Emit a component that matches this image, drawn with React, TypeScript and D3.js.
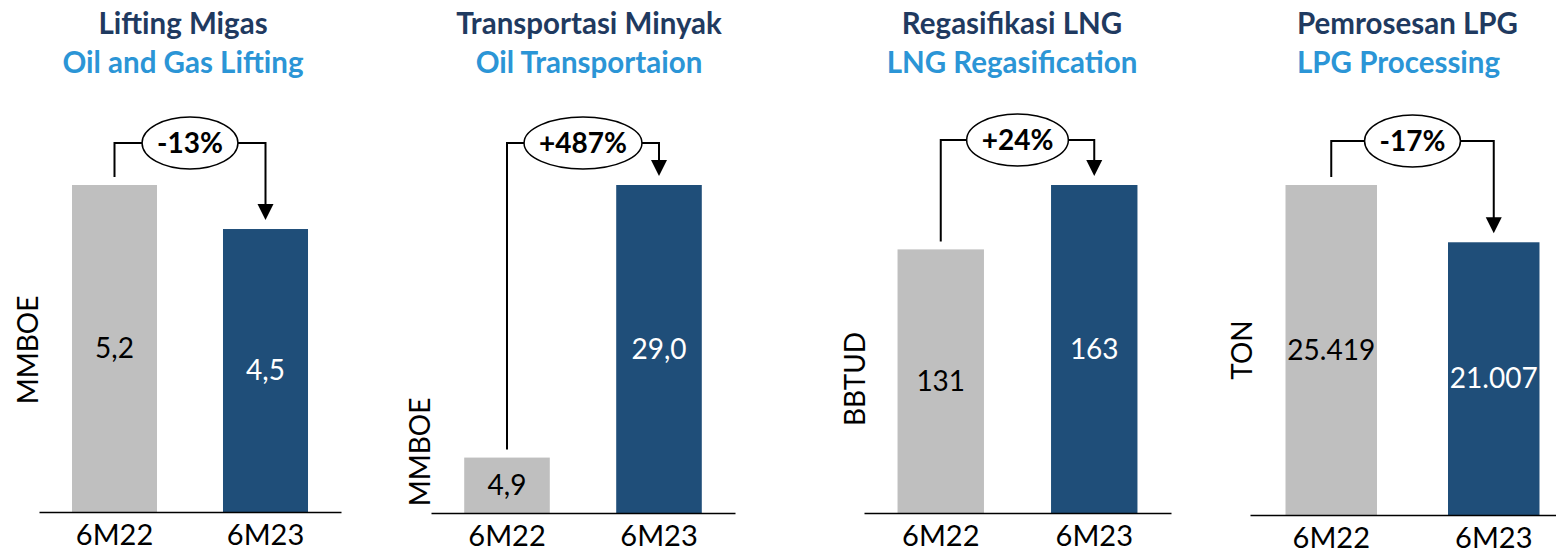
import React, { useEffect, useRef } from "react";
import * as d3 from "d3";

// ---- data ----
const categories = ["6M22", "6M23"];
const titlesId = ["Lifting Migas", "Transportasi Minyak", "Regasifikasi LNG", "Pemrosesan LPG"];
const titlesEn = ["Oil and Gas Lifting", "Oil Transportaion", "LNG Regasification", "LPG Processing"];
const units = ["MMBOE", "MMBOE", "BBTUD", "TON"];
const values6M22 = [5.2, 4.9, 131, 25419];
const values6M23 = [4.5, 29.0, 163, 21007];
const changeLabels = ["-13%", "+487%", "+24%", "-17%"];
const valueFormats = [",.1f", ",.1f", ",.0f", ",.0f"];

// ---- layout ----
const W = 1556;
const H = 554;
const panelX0 = [39, 431, 864, 1250];
const panelW = [302, 304, 307, 325];
const baselines = [512, 513, 513, 515];
const topY = 185;
const bracketY = [143, 143, 140, 141];
const titleX = [183, 589, 1012, 1297];
const titleAnchor = ["middle", "middle", "middle", "start"];
const unitX = [28, 420, 855, 1242];
const unitY = [350, 452, 379, 350];

const FONT = "Lato, 'Open Sans', sans-serif";
const GREY = "#BFBFBF";
const NAVY = "#1F4E79";
const TITLE_NAVY = "#1F3A60";
const TITLE_BLUE = "#2B95D6";

const locale = d3.formatLocale({ decimal: ",", thousands: ".", grouping: [3], currency: ["", ""] });

export default function App() {
  const ref = useRef<SVGSVGElement>(null);

  useEffect(() => {
    const svg = d3.select(ref.current);
    svg.selectAll("*").remove();

    titlesId.forEach((_, i) => {
      const g = svg.append("g");
      const x = d3
        .scaleBand()
        .domain(categories)
        .range([panelX0[i], panelX0[i] + panelW[i]])
        .paddingInner(0.437)
        .paddingOuter(0.2185);
      const vals = [values6M22[i], values6M23[i]];
      const y = d3
        .scaleLinear()
        .domain([0, d3.max(vals) as number])
        .range([baselines[i], topY]);
      const fmt = locale.format(valueFormats[i]);

      // titles
      g.append("text")
        .attr("x", titleX[i])
        .attr("y", 34)
        .attr("text-anchor", titleAnchor[i])
        .attr("font-family", FONT)
        .attr("font-weight", 700)
        .attr("font-size", 29.5)
        .attr("fill", TITLE_NAVY)
        .text(titlesId[i]);
      g.append("text")
        .attr("x", titleX[i])
        .attr("y", 73)
        .attr("text-anchor", titleAnchor[i])
        .attr("font-family", FONT)
        .attr("font-weight", 700)
        .attr("font-size", 29.5)
        .attr("fill", TITLE_BLUE)
        .text(titlesEn[i]);

      // bars
      categories.forEach((c, j) => {
        g.append("rect")
          .attr("x", x(c) as number)
          .attr("y", y(vals[j]))
          .attr("width", x.bandwidth())
          .attr("height", baselines[i] - y(vals[j]))
          .attr("fill", j === 0 ? GREY : NAVY);
        g.append("text")
          .attr("x", (x(c) as number) + x.bandwidth() / 2)
          .attr("y", (y(vals[j]) + baselines[i]) / 2)
          .attr("dy", "0.35em")
          .attr("text-anchor", "middle")
          .attr("font-family", FONT)
          .attr("font-size", 28)
          .attr("fill", j === 0 ? "#000" : "#fff")
          .text(fmt(vals[j]));
      });

      // axis line
      const axis = d3.axisBottom(x).tickSize(0).tickPadding(12);
      const ag = g.append("g").attr("transform", `translate(0,${baselines[i]})`).call(axis);
      ag.select(".domain").attr("stroke", "#000").attr("stroke-width", 1.5);
      ag.selectAll("text")
        .attr("font-family", FONT)
        .attr("font-size", 29)
        .attr("fill", "#000")
        .attr("dy", "0.71em");

      // unit label
      g.append("text")
        .attr("transform", `translate(${unitX[i]},${unitY[i]}) rotate(-90)`)
        .attr("dy", "0.35em")
        .attr("text-anchor", "middle")
        .attr("font-family", FONT)
        .attr("font-size", 28)
        .attr("fill", "#000")
        .text(units[i]);

      // bracket
      const xa = (x(categories[0]) as number) + x.bandwidth() / 2;
      const xb = (x(categories[1]) as number) + x.bandwidth() / 2;
      const by = bracketY[i];
      const tipY = y(vals[1]) - 9;
      const path = d3.path();
      path.moveTo(xa, y(vals[0]) - 8);
      path.lineTo(xa, by);
      path.lineTo(xb, by);
      path.lineTo(xb, tipY - 15);
      g.append("path")
        .attr("d", path.toString())
        .attr("fill", "none")
        .attr("stroke", "#000")
        .attr("stroke-width", 2);
      g.append("path")
        .attr("d", `M${xb},${tipY}L${xb - 8},${tipY - 16}L${xb + 8},${tipY - 16}Z`)
        .attr("fill", "#000");

      const cx = (xa + xb) / 2;
      const ell = g.append("ellipse").attr("cx", cx).attr("cy", by).attr("ry", 26)
        .attr("fill", "#fff").attr("stroke", "#000").attr("stroke-width", 1.5);
      const t = g.append("text")
        .attr("x", cx)
        .attr("y", by)
        .attr("dy", "0.35em")
        .attr("text-anchor", "middle")
        .attr("font-family", FONT)
        .attr("font-weight", 700)
        .attr("font-size", 28)
        .attr("fill", "#000")
        .text(changeLabels[i]);
      const tw = (t.node() as SVGTextElement).getComputedTextLength();
      ell.attr("rx", tw / 2 + 15);
    });
  }, []);

  return (
    <svg
      ref={ref}
      width={W}
      height={H}
      style={{ position: "absolute", left: 0, top: 0, background: "#fff" }}
    />
  );
}
